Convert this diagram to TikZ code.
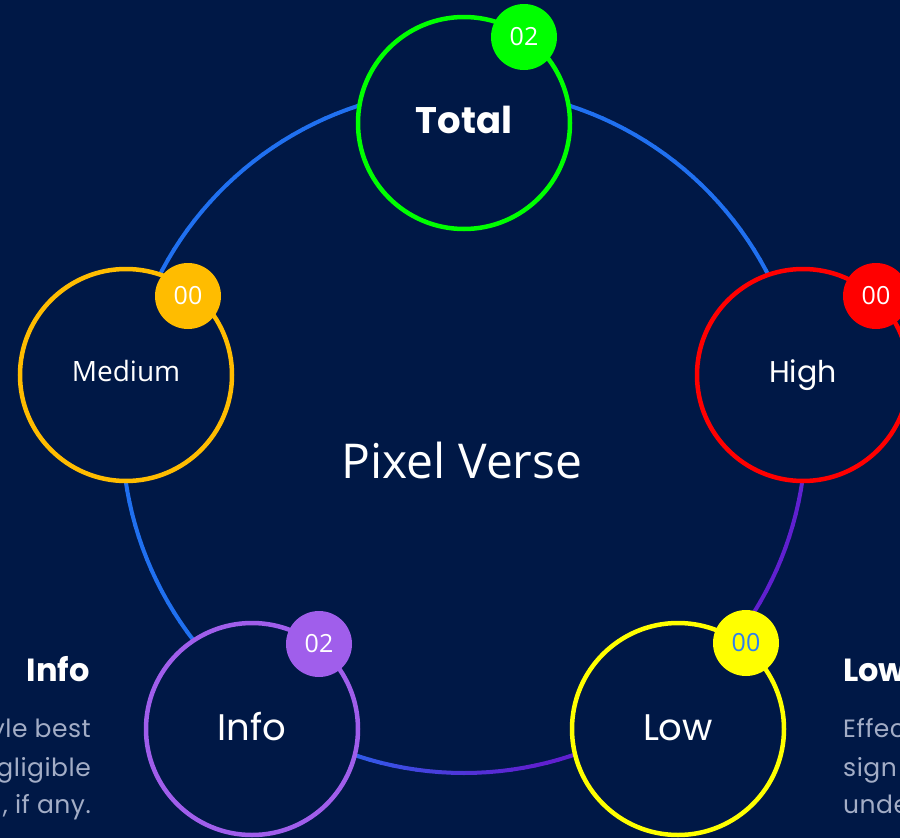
\documentclass[tikz,border=0pt]{standalone}
\usepackage{fontspec}
\setmainfont{Open Sans}
\newfontfamily\pop{Poppins}
\newfontfamily\popw{Poppins}[LetterSpace=2]
\definecolor{bg}{HTML}{001846}
\definecolor{ringblue}{HTML}{2070F0}
\definecolor{ringpurple}{HTML}{6020D0}
\definecolor{cgreen}{HTML}{00FF00}
\definecolor{cred}{HTML}{FF0000}
\definecolor{cyellow}{HTML}{FFFF00}
\definecolor{camber}{HTML}{FFBC00}
\definecolor{cviolet}{HTML}{A05EEB}
\definecolor{lowtxt}{HTML}{2D7FF0}
\definecolor{bodygray}{HTML}{A3ADC6}
\tikzset{
  ringseg/.style={line width=4pt, line cap=round},
  item/.style={circle, draw, line width=4.5pt, fill=bg, minimum size=212pt, inner sep=0pt},
  badge/.style={circle, minimum size=66pt, inner sep=0pt, text=white, font=\fontsize{25}{25}\selectfont},
  lbl/.style={anchor=base, inner sep=0pt, text=white},
  sidehead/.style={inner sep=0pt, text=white, font=\pop\bfseries\fontsize{32}{32}\selectfont},
  sidebody/.style={inner sep=0pt, text=bodygray, font=\popw\fontsize{25}{25}\selectfont},
}
\begin{document}
\begin{tikzpicture}[x=1pt,y=-1pt]
\fill[bg] (0,0) rectangle (900,838);
\useasboundingbox (0,0) rectangle (900,838);
% gradient ring
\foreach \a in {0,2,...,358}{
  \pgfmathsetmacro\xa{464+342*cos(\a)}
  \pgfmathsetmacro\ya{431+342*sin(\a)}
  \pgfmathsetmacro\xb{464+342*cos(\a+2)}
  \pgfmathsetmacro\yb{431+342*sin(\a+2)}
  \pgfmathsetmacro\tmix{max(0,min(100,((\xa+\xb+\ya+\yb)/2/1.41421-740)/1.8))}
  \draw[ringseg, color=ringpurple!\tmix!ringblue] (\xa,\ya) -- (\xb,\yb);
}
% circles
\node[item, draw=cgreen] (total) at (464,123) {};
\node[item, draw=camber] (medium) at (126,375) {};
\node[item, draw=cred] (high) at (803,375) {};
\node[item, draw=cviolet] (info) at (252,729) {};
\node[item, draw=cyellow] (low) at (678,729) {};
% labels
\node[lbl, font=\pop\bfseries\fontsize{37}{37}\selectfont] (totaltxt) at (464,133) {Total};
\node[lbl, font=\fontsize{28}{28}\selectfont] (mediumtxt) at (126,381) {Medium};
\node[lbl, font=\pop\fontsize{30}{30}\selectfont] (hightxt) at (803,382) {High};
\node[lbl, font=\pop\fontsize{37}{37}\selectfont] (infotxt) at (252,740) {Info};
\node[lbl, font=\pop\fontsize{37}{37}\selectfont] (lowtxt) at (678,740) {Low};
\node[lbl, font=\fontsize{48}{48}\selectfont] (center) at (462,478) {Pixel Verse};
% badges
\node[badge, fill=cgreen] (btotal) at (524,37) {02};
\node[badge, fill=camber] (bmedium) at (188,296) {00};
\node[badge, fill=cred] (bhigh) at (876,296) {00};
\node[badge, fill=cviolet] (binfo) at (319,644) {02};
\node[badge, fill=cyellow, text=lowtxt] (blow) at (746,643) {00};
% side texts left
\node[sidehead, anchor=base east] (lhead) at (90,681) {Info};
\node[sidebody, anchor=base east] (lb1) at (91,737) {yle best};
\node[sidebody, anchor=base east] (lb2) at (91,776) {gligible};
\node[sidebody, anchor=base east] (lb3) at (91,813) {, if any.};
% side texts right
\node[sidehead, anchor=base west] (rhead) at (843,681) {Low};
\node[sidebody, anchor=base west] (rb1) at (843,737) {Effec};
\node[sidebody, anchor=base west] (rb2) at (843,776) {sign};
\node[sidebody, anchor=base west] (rb3) at (843,813) {unde};
\end{tikzpicture}
\end{document}
